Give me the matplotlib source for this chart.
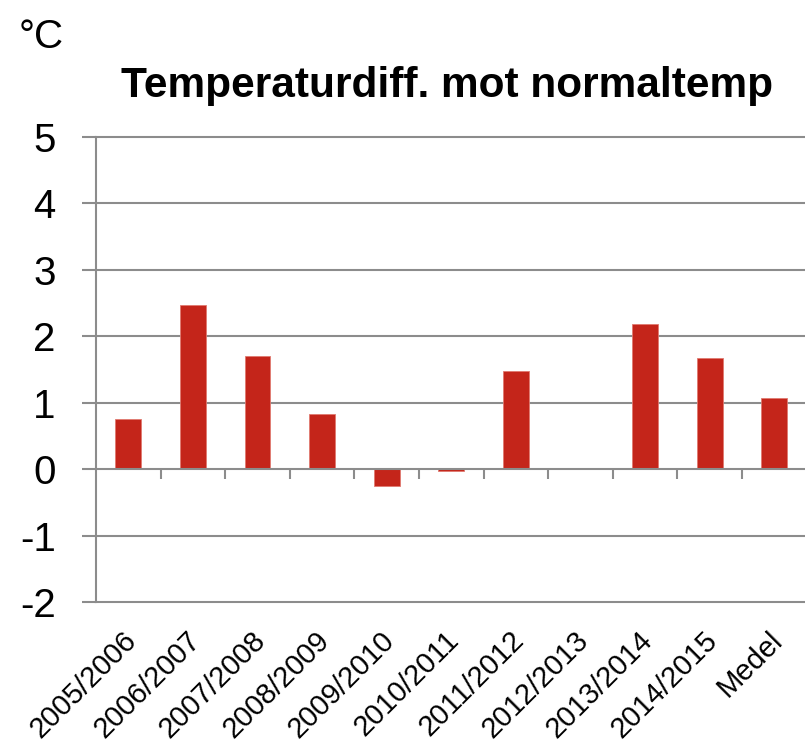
import matplotlib
matplotlib.use("Agg")
import matplotlib.pyplot as plt
import matplotlib.transforms as mtransforms
import numpy as np

categories = ["2005/2006", "2006/2007", "2007/2008", "2008/2009", "2009/2010",
              "2010/2011", "2011/2012", "2012/2013", "2013/2014", "2014/2015", "Medel"]
values = [0.76, 2.47, 1.71, 0.83, -0.26, -0.03, 1.47, 0.0, 2.19, 1.68, 1.07]
yticks = [-2, -1, 0, 1, 2, 3, 4, 5]
title = "Temperaturdiff. mot normaltemp"
unit = "°C"

plt.rcParams['font.family'] = ['Liberation Sans', 'DejaVu Sans']

fig = plt.figure(figsize=(8.05, 7.51), dpi=100)
ax = fig.add_axes([96/805, 1 - 602/751, (805 - 96)/805, (602 - 137)/751])

x = np.arange(len(categories))
bar_color = "#C4251A"
grid_color = "#8C8C8C"
ax.bar(x, values, width=0.40, color=bar_color, edgecolor="#E07A70", linewidth=0.6, zorder=3)

ax.set_ylim(-2, 5)
ax.set_xlim(-0.5, len(categories) - 0.525)

for yv in yticks:
    if yv != 0:
        ax.axhline(yv, color=grid_color, linewidth=1.5, zorder=1, clip_on=False)

for s in ["top", "right"]:
    ax.spines[s].set_visible(False)
ax.spines["left"].set_color(grid_color)
ax.spines["left"].set_linewidth(1.5)
ax.spines["left"].set_zorder(2)
ax.spines["bottom"].set_position(("data", 0))
ax.spines["bottom"].set_color(grid_color)
ax.spines["bottom"].set_linewidth(1.5)
ax.spines["bottom"].set_zorder(4)

ax.set_yticks(yticks)
ax.set_yticklabels([str(v) for v in yticks], fontsize=29)
ax.tick_params(axis="y", length=10, width=1.5, color=grid_color, pad=19)

ax.set_xticks(x)
ax.set_xticklabels([])
ax.tick_params(axis="x", which="major", length=0)
ax.set_xticks(x[:-1] + 0.5, minor=True)
ax.tick_params(axis="x", which="minor", length=7, width=1.5, color=grid_color, direction="out")

trans = mtransforms.blended_transform_factory(ax.transData, ax.transAxes)
for xi, lab in zip(x, categories):
    ax.text(xi - 0.1, -0.052, lab, transform=trans, rotation=45, rotation_mode="anchor",
            ha="right", va="top", fontsize=21)

fig.text(19/805, 1 - 37/751, unit, fontsize=29, ha="left", va="center")
fig.text(447/805, 1 - 97/751, title, fontsize=30.5, fontweight="bold", ha="center", va="baseline")

fig.savefig("out.png", dpi=100)
